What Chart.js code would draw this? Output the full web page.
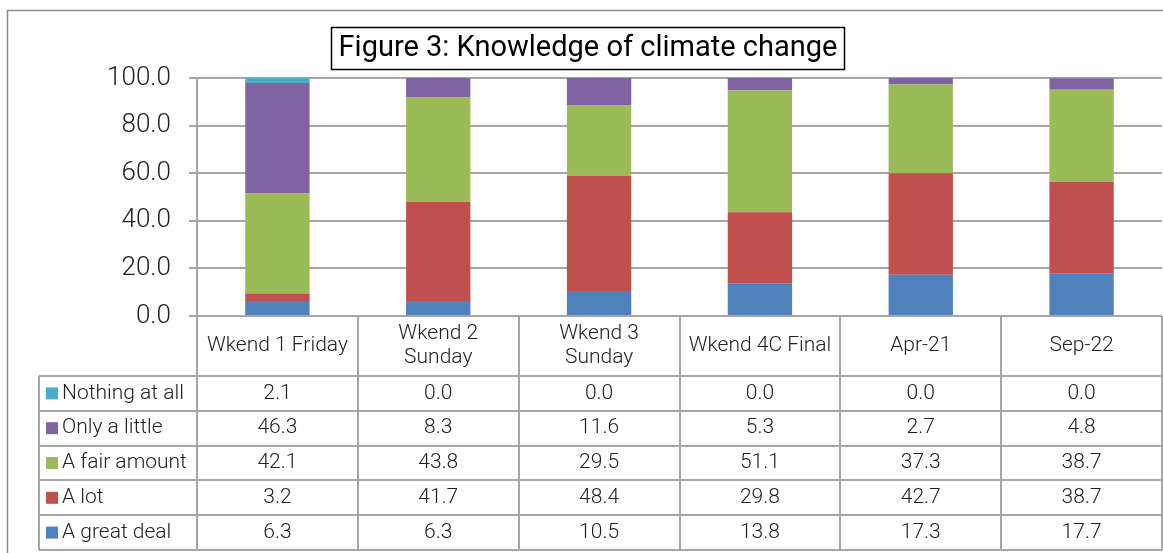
<!DOCTYPE html>
<html>
<head>
<meta charset="utf-8">
<script src="https://cdn.jsdelivr.net/npm/chart.js@4"></script>
<style>
  body { margin: 0; background: #fff; }
</style>
</head>
<body>
<canvas id="chart" width="1163" height="553"></canvas>
<script>
// Data (bottom of stack first)
const categories = [['Wkend 1 Friday'], ['Wkend 2', 'Sunday'], ['Wkend 3', 'Sunday'], ['Wkend 4C Final'], ['Apr-21'], ['Sep-22']];
const greatDeal = [6.3, 6.3, 10.5, 13.8, 17.3, 17.7];
const aLot = [3.2, 41.7, 48.4, 29.8, 42.7, 38.7];
const fairAmount = [42.1, 43.8, 29.5, 51.1, 37.3, 38.7];
const onlyALittle = [46.3, 8.3, 11.6, 5.3, 2.7, 4.8];
const nothingAtAll = [2.1, 0.0, 0.0, 0.0, 0.0, 0.0];
const yTicks = [0, 20, 40, 60, 80, 100];
const chartTitle = 'Figure 3: Knowledge of climate change';

const FONT = 'Roboto, "Liberation Sans", sans-serif';
const GRID = '#a6a6a6';

function ds(label, data, color) {
  return { label, data, backgroundColor: color, borderWidth: 0, barPercentage: 0.4, categoryPercentage: 1 };
}

const datasets = [
  ds('A great deal', greatDeal, '#4f81bd'),
  ds('A lot', aLot, '#c0504d'),
  ds('A fair amount', fairAmount, '#9bbb59'),
  ds('Only a little', onlyALittle, '#8064a2'),
  ds('Nothing at all', nothingAtAll, '#4bacc6')
];

// Draws title box, outer frame and the data table under the x axis
const tablePlugin = {
  id: 'tablePlugin',
  afterDraw(chart) {
    const ctx = chart.ctx;
    const area = chart.chartArea;
    const x = chart.scales.x;
    const half = (x.getPixelForValue(1) - x.getPixelForValue(0)) / 2;
    const headTop = area.bottom;
    const headH = 60;
    const rowH = 34.8;
    const rowsTop = headTop + headH;
    const legendLeft = 39;
    const rows = datasets.slice().reverse();
    const bottom = rowsTop + rowH * rows.length;

    ctx.save();
    // outer frame
    ctx.strokeStyle = '#8c8c8c';
    ctx.lineWidth = 1.5;
    ctx.beginPath();
    ctx.moveTo(7.5, 553);
    ctx.lineTo(7.5, 10.5);
    ctx.lineTo(1163, 10.5);
    ctx.stroke();

    // title
    ctx.font = '29px ' + FONT;
    ctx.fillStyle = '#000';
    ctx.textAlign = 'center';
    ctx.textBaseline = 'middle';
    ctx.fillText(chartTitle, 588, 49);
    ctx.strokeStyle = '#000';
    ctx.lineWidth = 1.5;
    ctx.strokeRect(331.5, 27.5, 513, 42);

    // table lines
    ctx.strokeStyle = GRID;
    ctx.lineWidth = 2;
    ctx.beginPath();
    for (let i = 0; i <= categories.length; i++) {
      const px = Math.round(x.getPixelForValue(0) - half + i * 2 * half);
      ctx.moveTo(px, headTop);
      ctx.lineTo(px, bottom);
    }
    ctx.moveTo(legendLeft, rowsTop);
    ctx.lineTo(legendLeft, bottom);
    for (let r = 0; r <= rows.length; r++) {
      const py = Math.round(rowsTop + r * rowH);
      ctx.moveTo(legendLeft, py);
      ctx.lineTo(area.right, py);
    }
    ctx.stroke();

    // header labels
    ctx.fillStyle = '#222';
    ctx.font = '300 21px ' + FONT;
    categories.forEach((lines, i) => {
      const cx = x.getPixelForValue(i);
      const cy = headTop + headH / 2;
      lines.forEach((t, k) => {
        ctx.fillText(t, cx, cy + (k - (lines.length - 1) / 2) * 24);
      });
    });

    // rows
    rows.forEach((d, r) => {
      const cy = rowsTop + r * rowH + rowH / 2;
      ctx.fillStyle = d.backgroundColor;
      ctx.fillRect(46, cy - 6, 12, 12);
      ctx.fillStyle = '#222';
      ctx.textAlign = 'left';
      ctx.fillText(d.label, 62, cy);
      ctx.textAlign = 'center';
      d.data.forEach((v, i) => {
        ctx.fillText(v.toFixed(1), x.getPixelForValue(i), cy);
      });
    });
    ctx.restore();
  }
};

new Chart(document.getElementById('chart'), {
  type: 'bar',
  data: { labels: categories, datasets },
  options: {
    responsive: false,
    animation: false,
    layout: { padding: { left: 0, right: 1, top: 78, bottom: 237 } },
    plugins: { legend: { display: false }, tooltip: { enabled: false } },
    scales: {
      x: {
        stacked: true,
        display: false
      },
      y: {
        stacked: true,
        min: 0,
        max: 100,
        afterFit(scale) { scale.width = 197; },
        afterBuildTicks(scale) { scale.ticks = yTicks.map(v => ({ value: v })); },
        ticks: {
          padding: 18,
          color: '#222',
          font: { family: FONT, size: 26, weight: 300 },
          callback: v => v.toFixed(1)
        },
        grid: { color: GRID, lineWidth: 2, tickLength: 8 },
        border: { color: GRID, width: 2 }
      }
    }
  },
  plugins: [tablePlugin]
});
</script>
</body>
</html>
